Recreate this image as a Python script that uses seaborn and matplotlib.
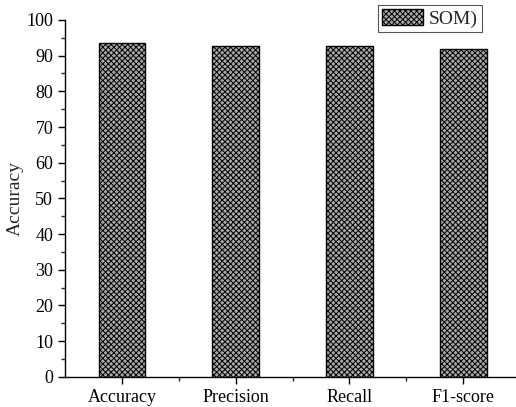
import matplotlib
matplotlib.use("Agg")
import matplotlib.pyplot as plt
import seaborn as sns
from matplotlib.ticker import MultipleLocator, FixedLocator

# valori
metrics = ["Accuracy", "Precision", "Recall", "F1-score"]
scores = [93.5, 92.6, 92.7, 91.9]
series_name = "SOM)"

sns.set_style("ticks")
plt.rcParams["font.family"] = ["Liberation Serif", "DejaVu Serif"]
plt.rcParams["hatch.linewidth"] = 0.7

fig = plt.figure(figsize=(5.16, 4.07), dpi=100)
ax = fig.add_axes([0.126, 0.074, 0.882, 0.877])

sns.barplot(x=metrics, y=scores, color="#a8a8a8", width=0.41,
            edgecolor="black", linewidth=1.0, hatch="xxxxxx", ax=ax)

ax.set_xlim(-0.5, 3.5)
ax.set_ylim(0, 100)
ax.yaxis.set_major_locator(MultipleLocator(10))
ax.yaxis.set_minor_locator(MultipleLocator(5))
ax.xaxis.set_minor_locator(FixedLocator([0.5, 1.5, 2.5]))

ax.set_xlabel("")
ax.set_ylabel("Accuracy", fontsize=14, labelpad=2)
ax.tick_params(axis="both", which="major", labelsize=13, direction="out",
               length=5, width=1, colors="black")
ax.tick_params(axis="both", which="minor", direction="out", length=3, width=1)

for side in ["top", "right"]:
    ax.spines[side].set_visible(False)
for side in ["left", "bottom"]:
    ax.spines[side].set_linewidth(1.0)
    ax.spines[side].set_color("black")

leg = ax.legend(handles=[ax.patches[0]], labels=[series_name], loc="upper right",
                bbox_to_anchor=(0.934, 0.988), bbox_transform=fig.transFigure,
                fontsize=14, fancybox=False, framealpha=1, edgecolor="#555555",
                handlelength=2.1, handleheight=0.9, handletextpad=0.3,
                borderpad=0.2, borderaxespad=0)
leg.get_frame().set_linewidth(0.8)

fig.savefig("out.png", dpi=100)
